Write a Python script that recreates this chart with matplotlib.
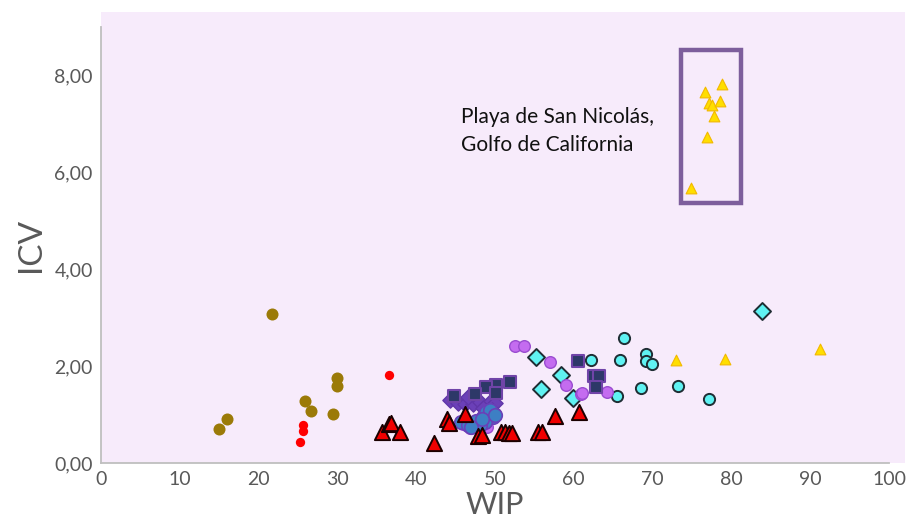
"""ICV vs WIP scatter, sediment samples by site, with the San Nicolás group boxed."""
import matplotlib
matplotlib.use("Agg")
import matplotlib.pyplot as plt
from matplotlib.patches import Rectangle
from matplotlib.ticker import FuncFormatter

plt.rcParams["font.family"] = ["Lato", "DejaVu Sans"]

# --- data (WIP, ICV) per group -------------------------------------------
brown_x = [15.0, 16.0, 21.7, 29.9, 29.9, 25.9, 26.7, 29.4]
brown_y = [0.70, 0.90, 3.07, 1.76, 1.58, 1.27, 1.07, 1.02]

red_dot_x = [25.6, 25.6, 25.2, 36.5]
red_dot_y = [0.78, 0.67, 0.44, 1.81]

red_tri_x = [35.7, 36.6, 36.8, 38.0, 42.3, 43.9, 44.1, 46.2, 47.8, 48.3,
             50.7, 51.3, 51.8, 52.2, 55.4, 56.0, 57.6, 60.7]
red_tri_y = [0.65, 0.80, 0.83, 0.65, 0.42, 0.91, 0.82, 1.01, 0.56, 0.58,
             0.63, 0.63, 0.61, 0.61, 0.63, 0.63, 0.98, 1.05]

yellow_x = [78.8, 76.6, 77.2, 77.5, 78.6, 77.8, 76.9, 74.9, 73.0, 79.2, 91.3]
yellow_y = [7.83, 7.66, 7.43, 7.38, 7.48, 7.16, 6.73, 5.68, 2.12, 2.14, 2.35]

cyan_dot_x = [66.4, 62.2, 65.9, 69.1, 69.1, 69.9, 68.5, 73.2, 65.5, 77.1]
cyan_dot_y = [2.59, 2.12, 2.12, 2.25, 2.10, 2.05, 1.55, 1.59, 1.39, 1.33]

cyan_dia_x = [55.2, 58.4, 55.8, 59.9, 83.9]
cyan_dia_y = [2.19, 1.82, 1.53, 1.35, 3.13]

violet_x = [52.6, 53.7, 57.0, 59.0, 60.9, 61.1, 64.2, 46.0, 46.8, 49.0]
violet_y = [2.42, 2.42, 2.08, 1.61, 1.43, 1.45, 1.47, 0.80, 0.72, 0.75]

navy_x = [60.5, 62.6, 63.2, 62.8, 51.9, 50.1, 48.9, 47.4, 44.8, 50.1]
navy_y = [2.10, 1.79, 1.79, 1.56, 1.68, 1.61, 1.56, 1.43, 1.39, 1.45]

purple_x = [44.3, 45.3, 46.2, 47.2, 48.1, 49.2, 50.0, 48.5, 49.6, 46.6]
purple_y = [1.30, 1.23, 1.22, 1.21, 1.26, 1.23, 1.23, 1.13, 1.09, 1.36]

blue_x = [45.7, 46.6, 47.6, 48.5, 48.9, 49.8, 48.7, 48.1, 47.0, 49.4, 50.0, 48.4]
blue_y = [0.85, 0.78, 0.87, 0.95, 1.06, 0.95, 0.85, 0.78, 0.75, 1.09, 1.00, 0.90]

box_x = (73.6, 81.2)
box_y = (5.36, 8.52)

GREY = "#595959"

fig = plt.figure(figsize=(9.2, 5.23), dpi=100)
ax = fig.add_axes([0.1098, 0.1147, 0.8565, 0.8337])
ax.set_facecolor("none")
ax.set_xlim(0, 100)
ax.set_ylim(0, 9)

# plot-area fill runs a little past the axis frame
ax.add_patch(Rectangle((0, 0), 102, 9.3, fc="#f7ebfb", ec="none",
                       clip_on=False, zorder=0))

ax.scatter(brown_x, brown_y, s=75, marker="o", c="#9b7a08", lw=0, zorder=3)
ax.scatter(red_dot_x, red_dot_y, s=45, marker="o", c="#ff0000", lw=0, zorder=3)
ax.scatter(yellow_x, yellow_y, s=60, marker="^", c="#ffde00",
           edgecolors="#f2b800", lw=0.8, zorder=3)
ax.scatter(cyan_dot_x, cyan_dot_y, s=65, marker="o", c="#5ff2f2",
           edgecolors="#1f2d33", lw=1.4, zorder=3)
ax.scatter(cyan_dia_x, cyan_dia_y, s=75, marker="D", c="#5ff2f2",
           edgecolors="#1f2d33", lw=1.4, zorder=3)
ax.scatter(violet_x, violet_y, s=70, marker="o", c="#c46cf0",
           edgecolors="#9a4cd0", lw=1.0, zorder=3)
ax.scatter(purple_x, purple_y, s=60, marker="D", c="#6b40b8",
           edgecolors="#6036a8", lw=1.0, zorder=3)
ax.scatter(blue_x, blue_y, s=95, marker="o", c="#3d7fc4",
           edgecolors="#6a40b8", lw=1.2, zorder=4)
ax.scatter(navy_x, navy_y, s=75, marker="s", c="#2d3868",
           edgecolors="#7044a8", lw=1.5, zorder=4)
ax.scatter(red_tri_x, red_tri_y, s=120, marker="^", c="#f00000",
           edgecolors="#1a0000", lw=1.4, zorder=5)

ax.add_patch(Rectangle((box_x[0], box_y[0]), box_x[1] - box_x[0],
                       box_y[1] - box_y[0], fc="none", ec="#7d5e9c", lw=3.2,
                       zorder=6))
ax.text(45.7, 6.85, "Playa de San Nicolás,\nGolfo de California",
        fontsize=15, color="#111111", ha="left", va="center",
        linespacing=1.5, zorder=6)

for s in ("top", "right"):
    ax.spines[s].set_visible(False)
for s in ("left", "bottom"):
    ax.spines[s].set_color("#bfbfbf")
    ax.spines[s].set_linewidth(1.3)

ax.set_xticks(range(0, 101, 10))
ax.set_yticks([0, 2, 4, 6, 8])
ax.yaxis.set_major_formatter(FuncFormatter(lambda v, _: f"{v:.2f}".replace(".", ",")))
ax.tick_params(axis="x", length=0, labelsize=14, labelcolor=GREY, pad=6)
ax.tick_params(axis="y", length=0, labelsize=14, labelcolor=GREY, pad=6)

ax.set_xlabel("WIP", fontsize=22, color=GREY, va="baseline")
ax.xaxis.set_label_coords(0.5, -0.118)
ax.set_ylabel("ICV", fontsize=24, color=GREY, labelpad=6)

fig.savefig("out.png", dpi=100)
